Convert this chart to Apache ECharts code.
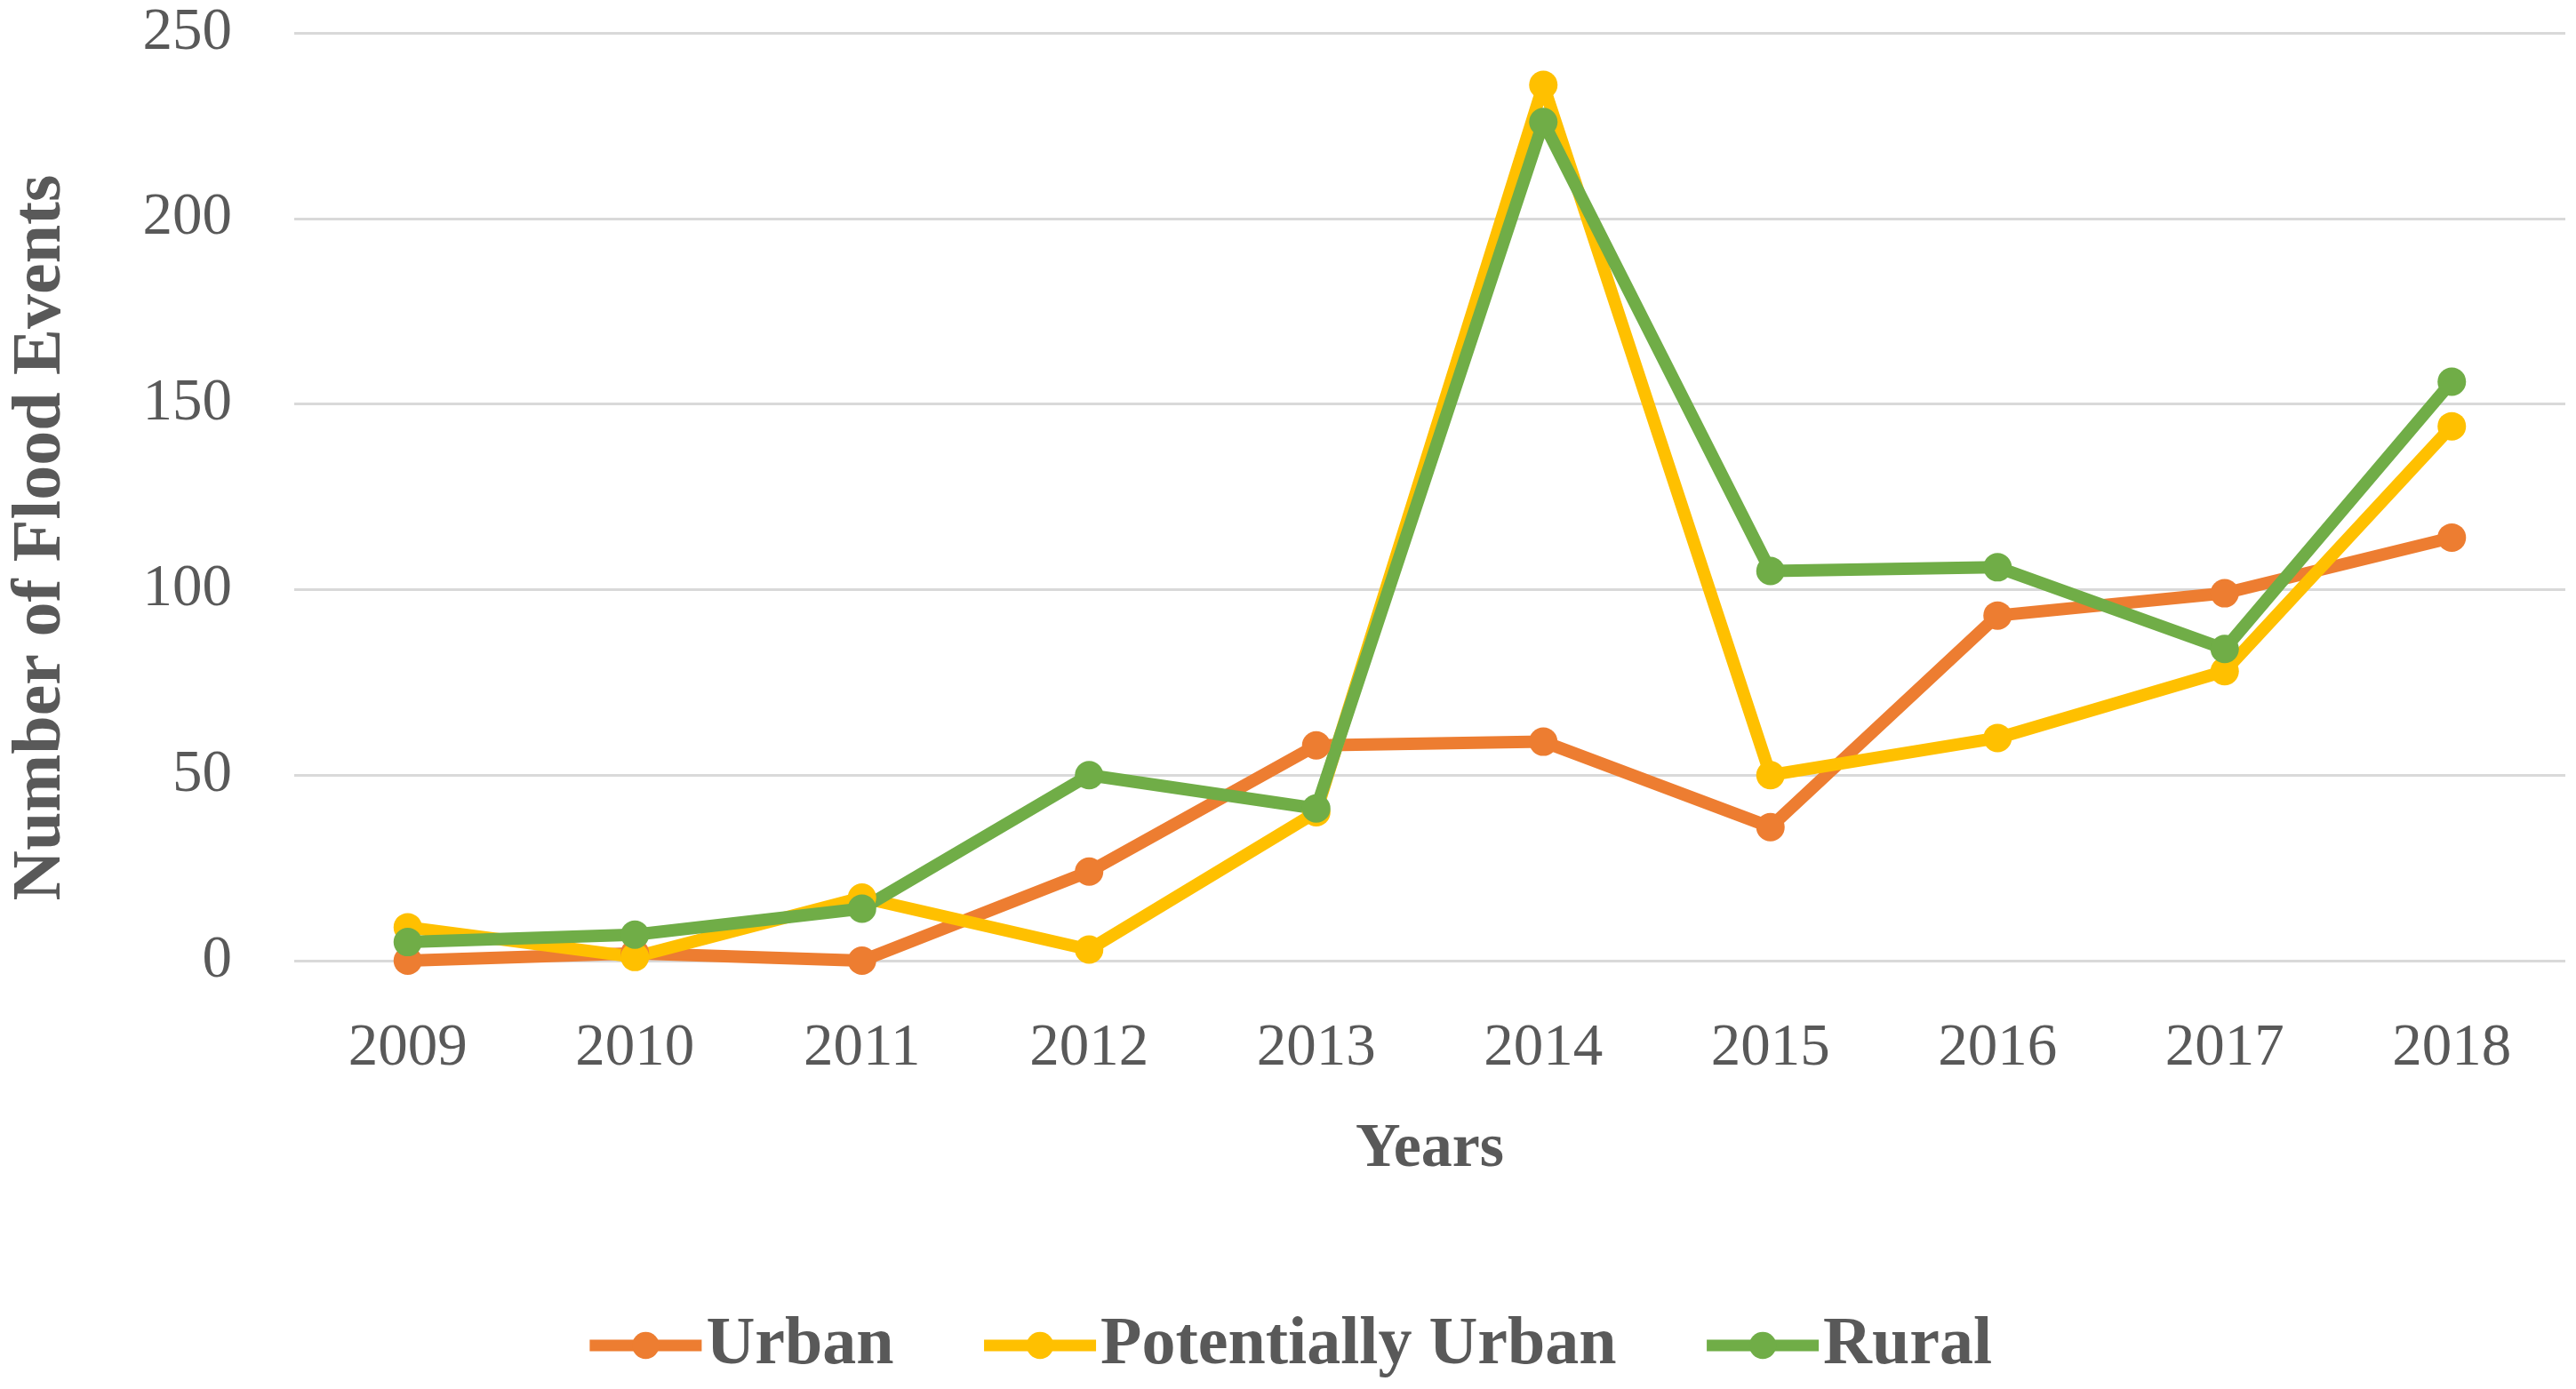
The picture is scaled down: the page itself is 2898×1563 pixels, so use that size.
<!DOCTYPE html>
<html>
<head>
<meta charset="utf-8">
<script src="https://cdn.jsdelivr.net/npm/echarts@6/dist/echarts.min.js"></script>
<style>
html,body{margin:0;padding:0;background:#fff;}
#chart{width:2898px;height:1563px;}
</style>
</head>
<body>
<div id="chart"></div>
<script>
const years = ['2009','2010','2011','2012','2013','2014','2015','2016','2017','2018'];
const urban = [0, 2, 0, 24, 58, 59, 36, 93, 99, 114];
const potentiallyUrban = [9, 1, 17, 3, 40, 236, 50, 60, 78, 144];
const rural = [5, 7, 14, 50, 41, 226, 105, 106, 84, 156];
const yTicks = [0, 50, 100, 150, 200, 250];

const FONT = '"Liberation Serif", "DejaVu Serif", serif';
const TXT = '#595959';

function mkSeries(name, data, color) {
  return {
    name: name,
    type: 'line',
    data: data,
    symbol: 'circle',
    symbolSize: 32,
    lineStyle: { color: color, width: 14 },
    itemStyle: { color: color },
    emphasis: { disabled: true },
    animation: false
  };
}

const chart = echarts.init(document.getElementById('chart'));
chart.setOption({
  animation: false,
  backgroundColor: '#ffffff',
  grid: { left: 328, right: 12, top: 37, bottom: 482, containLabel: false },
  legend: {
    left: 'center',
    top: 1471,
    itemWidth: 126,
    itemHeight: 38,
    itemGap: 95,
    lineStyle: { width: 13 },
    textStyle: { fontFamily: FONT, fontSize: 76, fontWeight: 'bold', color: TXT },
    data: ['Urban', 'Potentially Urban', 'Rural']
  },
  xAxis: {
    type: 'category',
    data: years,
    boundaryGap: true,
    axisLine: { show: false },
    axisTick: { show: false },
    axisLabel: { fontFamily: FONT, fontSize: 67, color: TXT, margin: 66 },
    name: 'Years',
    nameLocation: 'middle',
    nameGap: 178,
    nameTextStyle: { fontFamily: FONT, fontSize: 70, fontWeight: 'bold', color: TXT }
  },
  yAxis: {
    type: 'value',
    min: yTicks[0],
    max: yTicks[yTicks.length - 1],
    interval: 50,
    axisLine: { show: false },
    axisTick: { show: false },
    splitLine: { lineStyle: { color: '#d9d9d9', width: 3 } },
    axisLabel: { fontFamily: FONT, fontSize: 67, color: TXT, margin: 70 },
    name: 'Number of Flood Events',
    nameLocation: 'middle',
    nameGap: 245,
    nameTextStyle: { fontFamily: FONT, fontSize: 78, fontWeight: 'bold', color: TXT, padding: [0, 92, 0, 0] }
  },
  series: [
    mkSeries('Urban', urban, '#ED7D31'),
    mkSeries('Potentially Urban', potentiallyUrban, '#FFC000'),
    mkSeries('Rural', rural, '#70AD47')
  ]
});
</script>
</body>
</html>
